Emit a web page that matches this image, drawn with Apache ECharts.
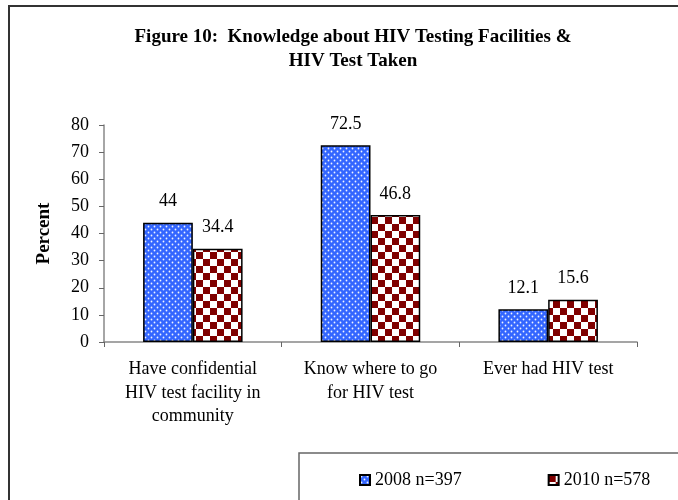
<!DOCTYPE html>
<html>
<head>
<meta charset="utf-8">
<script src="https://cdn.jsdelivr.net/npm/echarts@6/dist/echarts.min.js"></script>
<style>
html, body { margin: 0; padding: 0; background: #fff; }
#container { width: 678px; height: 500px; }
</style>
</head>
<body>
<div id="container"></div>
<script>
var categories = ['Have confidential\nHIV test facility in\ncommunity', 'Know where to go\nfor HIV test', 'Ever had HIV test'];
var seriesNames = ['2008 n=397', '2010 n=578'];
var values2008 = [44, 72.5, 12.1];
var values2010 = [34.4, 46.8, 15.6];

// blue with little white dots
function dotPattern() {
    var c = document.createElement('canvas');
    c.width = 6; c.height = 6;
    var g = c.getContext('2d');
    g.fillStyle = '#3366ff';
    g.fillRect(0, 0, 6, 6);
    g.fillStyle = '#f0f4ff';
    g.beginPath(); g.arc(1.5, 1.5, 0.9, 0, Math.PI * 2); g.fill();
    g.beginPath(); g.arc(4.5, 4.5, 0.9, 0, Math.PI * 2); g.fill();
    return c;
}
// dark red checkerboard
function checkPattern() {
    var c = document.createElement('canvas');
    c.width = 14; c.height = 14;
    var g = c.getContext('2d');
    g.fillStyle = '#800000';
    g.fillRect(0, 0, 14, 14);
    g.fillStyle = '#ffffff';
    g.fillRect(7, 0, 7, 7);
    g.fillRect(0, 7, 7, 7);
    return c;
}

var font = 'Liberation Serif';
var dom = document.getElementById('container');
var myChart = echarts.init(dom);
var option = {
    backgroundColor: '#fff',
    animation: false,
    title: {
        text: 'Figure 10:  Knowledge about HIV Testing Facilities &\nHIV Test Taken',
        left: 348,
        top: 20,
        textAlign: 'center',
        textStyle: { fontFamily: font, fontSize: 19, fontWeight: 'bold', color: '#000', lineHeight: 24 }
    },
    graphic: [
        { type: 'rect', shape: { x: 9, y: 6, width: 720, height: 620 }, style: { fill: 'none', stroke: '#333', lineWidth: 2 }, silent: true },
        { type: 'rect', shape: { x: 299, y: 453, width: 420, height: 100 }, style: { fill: 'none', stroke: '#666', lineWidth: 1.5 }, silent: true }
    ],
    legend: {
        left: 354,
        top: 466,
        itemWidth: 10,
        itemHeight: 10,
        itemGap: 86,
        icon: 'rect',
        textStyle: { fontFamily: font, fontSize: 18, color: '#000' },
        data: seriesNames
    },
    grid: { left: 104, right: 41, top: 125, bottom: 158 },
    xAxis: {
        type: 'category',
        data: categories,
        axisLine: { lineStyle: { color: '#888', width: 1.5 } },
        axisTick: { show: true, length: 5, lineStyle: { color: '#666' } },
        axisLabel: { fontFamily: font, fontSize: 18, color: '#000', lineHeight: 23.5, margin: 16, interval: 0 }
    },
    yAxis: {
        type: 'value',
        min: 0,
        max: 80,
        interval: 10,
        name: 'Percent',
        nameLocation: 'middle',
        nameGap: 50,
        nameTextStyle: { fontFamily: font, fontSize: 19, fontWeight: 'bold', color: '#000' },
        splitLine: { show: false },
        axisLine: { show: true, lineStyle: { color: '#888', width: 1.5 } },
        axisTick: { show: true, length: 5, lineStyle: { color: '#666' } },
        axisLabel: { fontFamily: font, fontSize: 18, color: '#000', margin: 15 }
    },
    series: [
        {
            name: seriesNames[0],
            type: 'bar',
            data: values2008,
            barGap: '0%',
            barCategoryGap: '44%',
            itemStyle: { color: { image: dotPattern(), repeat: 'repeat' }, borderColor: '#000', borderWidth: 1.5 },
            label: { show: true, position: 'top', distance: 12, fontFamily: font, fontSize: 18, color: '#000' }
        },
        {
            name: seriesNames[1],
            type: 'bar',
            data: values2010,
            itemStyle: { color: { image: checkPattern(), repeat: 'repeat' }, borderColor: '#000', borderWidth: 1.5 },
            label: { show: true, position: 'top', distance: 12, fontFamily: font, fontSize: 18, color: '#000' }
        }
    ]
};
if (option && typeof option === "object") {
    myChart.setOption(option, true);
}
</script>
</body>
</html>
